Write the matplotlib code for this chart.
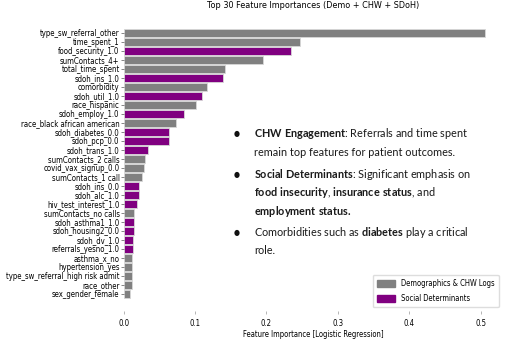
#!/usr/bin/python3

import numpy as np
import matplotlib
matplotlib.use("Agg")
import matplotlib.pyplot as plt
from matplotlib.patches import Patch

features = [
  "type_sw_referral_other", "time_spent_1", "food_security_1.0", "sumContacts_4+",
  "total_time_spent", "sdoh_ins_1.0", "comorbidity", "sdoh_util_1.0",
  "race_hispanic", "sdoh_employ_1.0", "race_black african american",
  "sdoh_diabetes_0.0", "sdoh_pcp_0.0", "sdoh_trans_1.0", "sumContacts_2 calls",
  "covid_vax_signup_0.0", "sumContacts_1 call", "sdoh_ins_0.0", "sdoh_alc_1.0",
  "hiv_test_interest_1.0", "sumContacts_no calls", "sdoh_asthma1_1.0",
  "sdoh_housing2_0.0", "sdoh_dv_1.0", "referrals_yesno_1.0", "asthma_x_no",
  "hypertension_yes", "type_sw_referral_high risk admit", "race_other",
  "sex_gender_female",
]
importance = [
  0.506, 0.247, 0.234, 0.195, 0.142, 0.139, 0.116, 0.109, 0.101, 0.084,
  0.073, 0.063, 0.063, 0.034, 0.030, 0.028, 0.025, 0.021, 0.021, 0.019,
  0.015, 0.015, 0.014, 0.013, 0.013, 0.012, 0.012, 0.012, 0.011, 0.009,
]
is_sdoh = [
  False, False, True, False, False, True, False, True, False, True,
  False, True, True, True, False, False, False, True, True, True,
  False, True, True, True, True, False, False, False, False, False,
]

GRAY = "#808080"
PURPLE = "#800080"

plt.rcParams['font.stretch'] = 'condensed'
plt.rcParams['mathtext.fontset'] = 'custom'
plt.rcParams['mathtext.rm'] = 'Lato'
plt.rcParams['mathtext.bf'] = 'Lato:bold'

fig = plt.figure(figsize=(5.2, 3.47), dpi=100)
ax = fig.add_axes([0.238, 0.104, 0.729, 0.85])

y = np.arange(len(features))
colors = [PURPLE if s else GRAY for s in is_sdoh]
ax.barh(y, importance, height=0.8, color=colors, edgecolor="#d8d8d8", linewidth=0.6)
ax.set_yticks(y)
ax.set_yticklabels(features, fontsize=5.6)
ax.invert_yaxis()
ax.set_xticks([0.0, 0.1, 0.2, 0.3, 0.4, 0.5])
ax.tick_params(axis='x', labelsize=5.6, length=2, width=0.5, color="#999999")
ax.tick_params(axis='y', length=2, width=0.5, color="#555555", pad=1)
for s in ax.spines.values():
  s.set_visible(False)
ax.set_xlabel("Feature Importance [Logistic Regression]", fontsize=5.5, labelpad=2)
ax.set_title("Top 30 Feature Importances (Demo + CHW + SDoH)", fontsize=6.5, pad=6)

handles = [Patch(color=GRAY, label="Demographics & CHW Logs"),
           Patch(color=PURPLE, label="Social Determinants")]
ax.legend(handles=handles, loc="lower right", fontsize=5.5, frameon=True,
          framealpha=1, edgecolor="#dddddd", fancybox=True,
          borderaxespad=0.5, handlelength=2.4, handleheight=1.0,
          labelspacing=0.8, borderpad=0.55)

# bullet notes
lines = [
  r"$\mathbf{CHW\ Engagement}$: Referrals and time spent",
  "remain top features for patient outcomes.",
  r"$\mathbf{Social\ Determinants}$: Significant emphasis on",
  r"$\mathbf{food\ insecurity}$, $\mathbf{insurance\ status}$, and",
  r"$\mathbf{employment\ status.}$",
  r"Comorbidities such as $\mathbf{diabetes}$ play a critical",
  "role.",
]
line_y = [133, 152, 175, 193, 212, 232, 250]
bullets = [0, 2, 5]
for i, (txt, py) in enumerate(zip(lines, line_y)):
  fig.text(254 / 520, 1 - py / 347, txt, fontsize=7.8, family="Lato",
           color="#1a1a1a", va="center", ha="left")
  if i in bullets:
    fig.text(237 / 520, 1 - py / 347, "\u25cf", fontsize=5.5, color="#111111",
             va="center", ha="center", family="DejaVu Sans")

fig.savefig("out.png", dpi=100)
